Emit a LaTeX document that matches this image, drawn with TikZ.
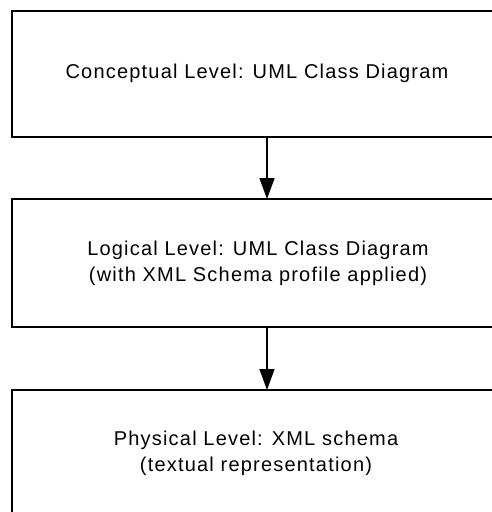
\documentclass[tikz,border=0pt]{standalone}
\usepackage{fontspec}
\setmainfont{Liberation Sans}
\newfontfamily\lblfont[LetterSpace=6]{Liberation Sans}
\usetikzlibrary{arrows.meta}
\tikzset{
  levelbox/.style={draw=black, line width=2pt, rectangle, minimum width=510pt, inner sep=0pt, outer sep=0pt},
  leveltext/.style={align=center, inner sep=0pt, font=\lblfont\fontsize{20}{26}\selectfont, text=black},
  flow/.style={draw=black, line width=1.5pt, -{Triangle[width=15pt,length=21pt]}}
}
\begin{document}
\begin{tikzpicture}[x=1pt,y=-1pt]
\useasboundingbox (0,0) rectangle (492,512);
\fill[white] (0,0) rectangle (492,512);
\clip (0,0) rectangle (492,512);
\node[levelbox, minimum height=126pt] (b1) at (267,74) {};
\node[levelbox, minimum height=128pt] (b2) at (267,263) {};
\node[levelbox, minimum height=128pt] (b3) at (267,454) {};
\node[leveltext] (t1) at (257,73) {Conceptual Level: UML Class Diagram};
\node[leveltext] (t2) at (258,263) {Logical Level: UML Class Diagram\\(with XML Schema profile applied)};
\node[leveltext] (t3) at (256,453) {Physical Level: XML schema\\(textual representation)};
\draw[flow] (b1.south) -- (b2.north);
\draw[flow] (b2.south) -- (b3.north);
\end{tikzpicture}
\end{document}
